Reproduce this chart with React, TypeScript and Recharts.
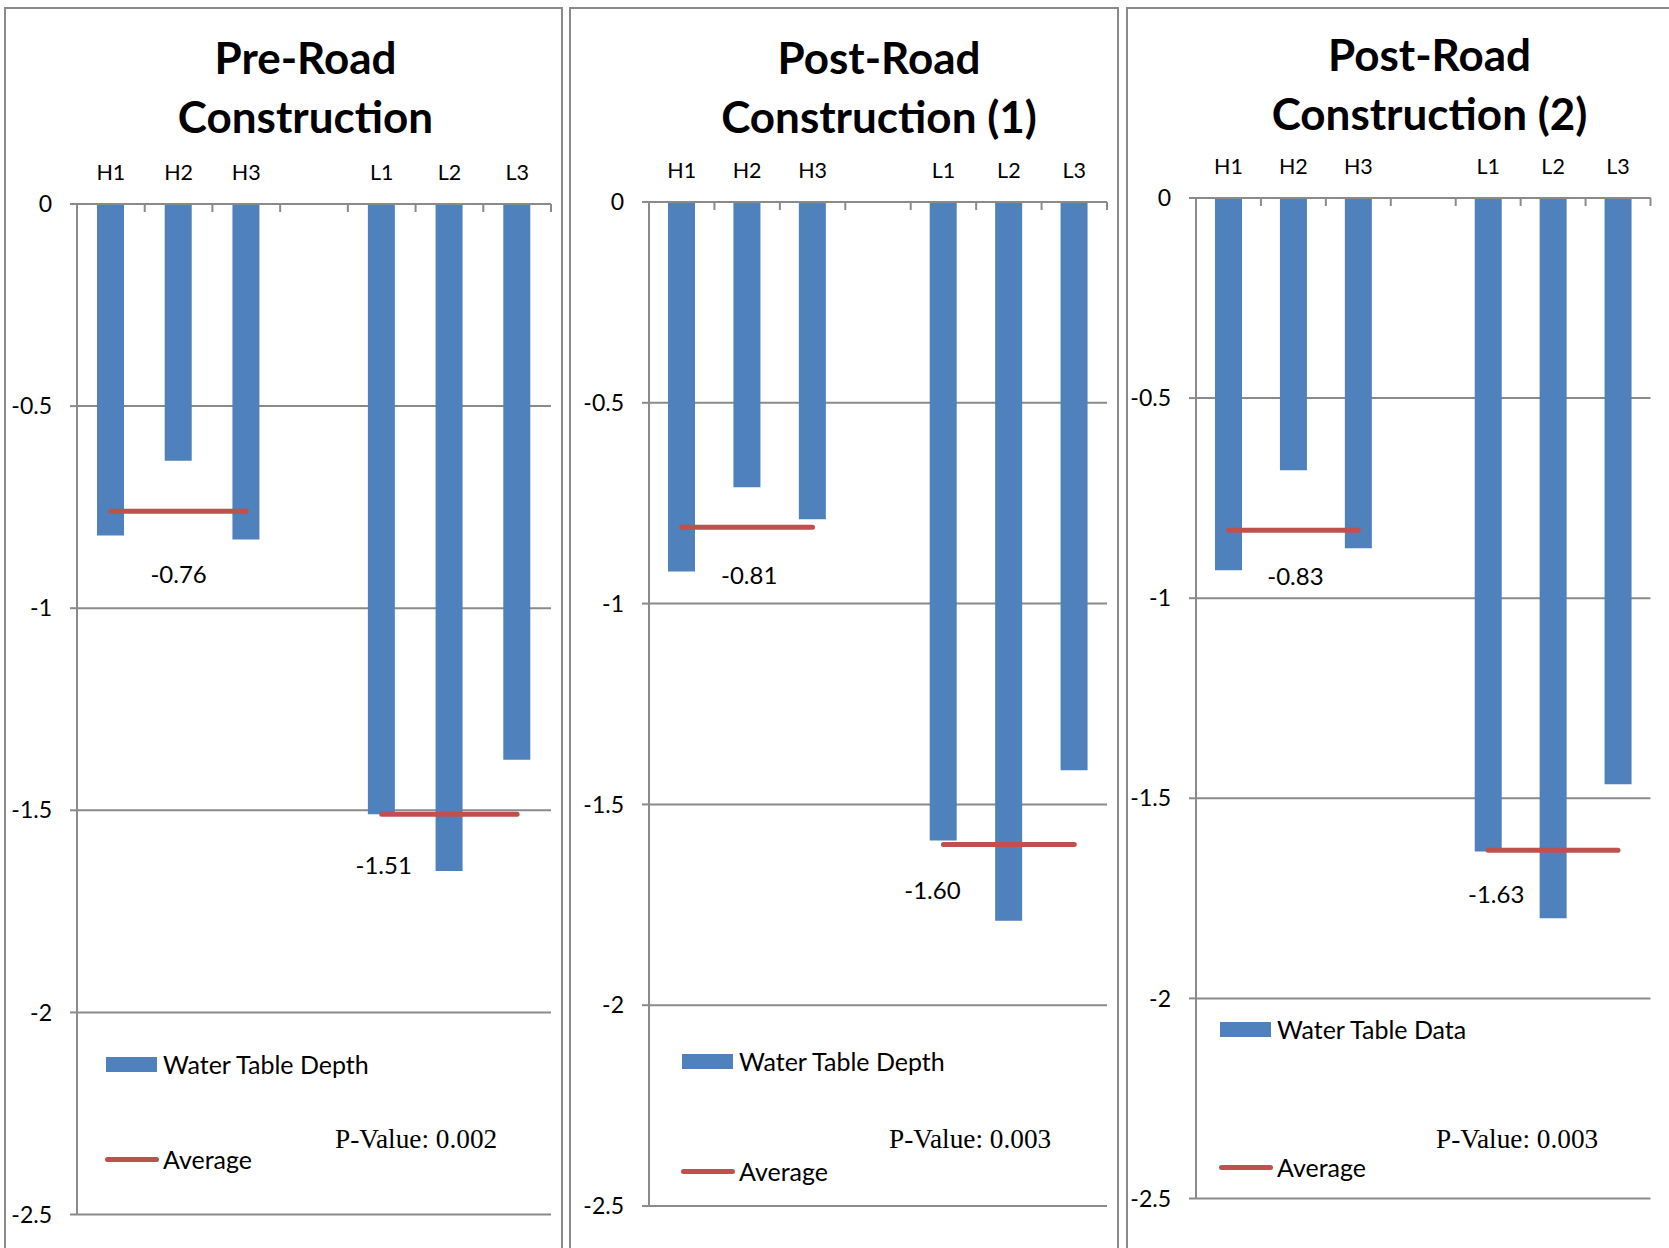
import {
  Bar,
  CartesianGrid,
  ComposedChart,
  LabelList,
  Legend,
  Line,
  XAxis,
  YAxis,
} from "recharts";

const wells = ["H1", "H2", "H3", "", "L1", "L2", "L3"];
const yTicks = [0, -0.5, -1, -1.5, -2, -2.5];

// water table depth per well (the empty slot separates the H and L groups)
const preRoad = [-0.82, -0.635, -0.83, null, -1.51, -1.65, -1.375];
const postRoad1 = [-0.92, -0.71, -0.79, null, -1.59, -1.79, -1.415];
const postRoad2 = [-0.93, -0.68, -0.875, null, -1.633, -1.80, -1.465];

// group averages: [H wells, L wells]
const preRoadAvg = [-0.76, -1.51];
const postRoad1Avg = [-0.81, -1.6];
const postRoad2Avg = [-0.83, -1.63];

const titles = [
  ["Pre-Road", "Construction"],
  ["Post-Road", "Construction (1)"],
  ["Post-Road", "Construction (2)"],
];
const barNames = ["Water Table Depth", "Water Table Depth", "Water Table Data"];
const pValues = ["0.002", "0.003", "0.003"];

const BLUE = "#4F81BD";
const RED = "#C0504D";
const GRAY = "#8a8a8a";
const FONT = "Lato, 'Open Sans', sans-serif";

const series = [preRoad, postRoad1, postRoad2];
const averages = [preRoadAvg, postRoad1Avg, postRoad2Avg];

// page positions of each panel
const layout = [
  {
    left: 4, width: 559, chartWidth: 559,
    plot: { left: 77, right: 551, top: 204, bottom: 1214.5 },
    titleX: 305.5, titleTop: 28,
    legendX: 106, legendY: [1064, 1159],
    pX: 335,
    labelOffsets: [[0, 72], [2, 60]],
  },
  {
    left: 569, width: 550, chartWidth: 550,
    plot: { left: 649, right: 1107, top: 202, bottom: 1206 },
    titleX: 879, titleTop: 28,
    legendX: 682, legendY: [1061, 1171],
    pX: 889,
    labelOffsets: [[2, 56.5], [-11, 54.5]],
  },
  {
    left: 1126, width: 620, chartWidth: 543,
    plot: { left: 1196, right: 1650.5, top: 198, bottom: 1198.5 },
    titleX: 1429.5, titleTop: 25,
    legendX: 1220, legendY: [1029, 1167],
    pX: 1436,
    labelOffsets: [[2, 55], [8, 53]],
  },
];

const buildRows = (values: (number | null)[], avg: number[]) =>
  wells.map((w, i) => ({
    well: w,
    depth: values[i],
    avg: w === "" ? null : w.startsWith("H") ? avg[0] : avg[1],
  }));

const WellTick = (props: any) => {
  const { x, payload, band, top } = props;
  return (
    <g>
      <text
        x={x}
        y={top - 24}
        textAnchor="middle"
        fontFamily={FONT}
        fontSize={21.5}
        fill="#000"
      >
        {payload.value}
      </text>
      <line
        x1={x + band / 2}
        x2={x + band / 2}
        y1={top}
        y2={top + 8}
        stroke={GRAY}
        strokeWidth={2}
      />
    </g>
  );
};

const Panel = ({ idx }: { idx: number }) => {
  const cfg = layout[idx];
  const rows = buildRows(series[idx], averages[idx]);
  const band = (cfg.plot.right - cfg.plot.left) / wells.length;
  const plotTop = cfg.plot.top;
  const margin = {
    top: plotTop - 40,
    bottom: 1248 - cfg.plot.bottom,
    left: cfg.plot.left - cfg.left - 70,
    right: cfg.left + cfg.chartWidth - cfg.plot.right,
  };

  const avgLabel = (p: any) => {
    const pos = p.index === 1 ? 0 : p.index === 4 ? 1 : -1;
    if (pos < 0) return null;
    const [dx, dy] = cfg.labelOffsets[pos];
    return (
      <text
        x={p.x + dx}
        y={p.y + dy}
        textAnchor="middle"
        fontFamily={FONT}
        fontSize={24}
        fill="#000"
      >
        {Number(p.value).toFixed(2)}
      </text>
    );
  };

  const legendContent = () => (
    <div style={{ position: "relative", fontFamily: FONT, fontSize: 25, color: "#000" }}>
      <div style={{ position: "absolute", left: 0, top: 0, height: 30, display: "flex", alignItems: "center", whiteSpace: "nowrap" }}>
        <span style={{ display: "inline-block", width: 51, height: 15, background: BLUE, marginRight: 6 }} />
        <span style={{ lineHeight: "30px" }}>{barNames[idx]}</span>
      </div>
      <div style={{ position: "absolute", left: -1, top: cfg.legendY[1] - cfg.legendY[0], height: 30, display: "flex", alignItems: "center", whiteSpace: "nowrap" }}>
        <span style={{ display: "inline-block", width: 54, height: 5, borderRadius: 3, background: RED, marginRight: 4 }} />
        <span style={{ lineHeight: "30px" }}>Average</span>
      </div>
    </div>
  );

  return (
    <>
      <div
        style={{
          position: "absolute",
          left: cfg.left,
          top: 7,
          width: cfg.width,
          height: 1300,
          border: `2px solid ${GRAY}`,
          boxSizing: "border-box",
        }}
      />
      <div
        style={{
          position: "absolute",
          left: cfg.titleX - 300,
          top: cfg.titleTop,
          width: 600,
          textAlign: "center",
          fontFamily: FONT,
          fontWeight: 700,
          fontSize: 44,
          lineHeight: "58.5px",
          color: "#000",
        }}
      >
        <div>{titles[idx][0]}</div>
        <div>{titles[idx][1]}</div>
      </div>
      <div style={{ position: "absolute", left: cfg.left, top: 0 }}>
        <ComposedChart width={cfg.chartWidth} height={1248} data={rows} margin={margin}>
          <CartesianGrid vertical={false} stroke={GRAY} strokeWidth={2} />
          <XAxis
            dataKey="well"
            orientation="top"
            height={40}
            interval={0}
            axisLine={{ stroke: GRAY, strokeWidth: 2 }}
            tickLine={false}
            tick={(p: any) => <WellTick {...p} band={band} top={plotTop} />}
          />
          <YAxis
            type="number"
            domain={[-2.5, 0]}
            ticks={yTicks}
            interval={0}
            width={70}
            allowDataOverflow
            axisLine={{ stroke: GRAY, strokeWidth: 2 }}
            tickLine={{ stroke: GRAY, strokeWidth: 2 }}
            tickSize={7}
            tickMargin={18}
            tick={{ fontSize: 23, fill: "#000", fontFamily: FONT }}
          />
          <Bar
            dataKey="depth"
            name={barNames[idx]}
            fill={BLUE}
            barSize={27}
            isAnimationActive={false}
          />
          <Line
            dataKey="avg"
            name="Average"
            type="linear"
            stroke={RED}
            strokeWidth={5}
            strokeLinecap="round"
            dot={false}
            activeDot={false}
            connectNulls={false}
            isAnimationActive={false}
          >
            <LabelList dataKey="avg" content={avgLabel} />
          </Line>
          <Legend
            layout="vertical"
            align="center"
            verticalAlign="middle"
            wrapperStyle={{
              left: cfg.legendX - cfg.left,
              top: cfg.legendY[0] - 15,
              width: 340,
              height: 30,
            }}
            content={legendContent}
          />
        </ComposedChart>
      </div>
      <div
        style={{
          position: "absolute",
          left: cfg.pX,
          top: 1123,
          fontFamily: "'Liberation Serif', 'Times New Roman', serif",
          fontSize: 27.3,
          lineHeight: 1.2,
          color: "#000",
          whiteSpace: "nowrap",
        }}
      >
        P-Value: {pValues[idx]}
      </div>
    </>
  );
};

const App = () => (
  <div
    style={{
      position: "absolute",
      left: 0,
      top: 0,
      width: 1669,
      height: 1248,
      overflow: "hidden",
      background: "#fff",
    }}
  >
    {layout.map((_, i) => (
      <Panel key={i} idx={i} />
    ))}
  </div>
);

export default App;
